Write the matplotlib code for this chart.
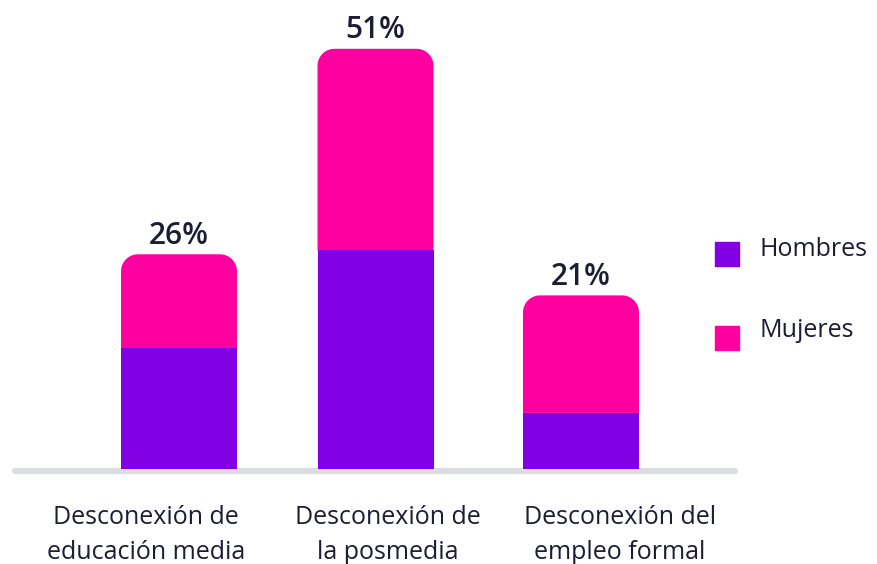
import numpy as np
import matplotlib.pyplot as plt
from matplotlib.patches import Polygon, Rectangle

plt.rcParams['font.family'] = ['Open Sans', 'DejaVu Sans']

categorias = ['Desconexión de\neducación media', 'Desconexión de\nla posmedia', 'Desconexión del\nempleo formal']
hombres = [14.6, 26.5, 6.7]
mujeres = [11.4, 24.5, 14.3]
totales = ['26%', '51%', '21%']
series = ['Hombres', 'Mujeres']

morado = '#8200E4'
rosa = '#FF00A0'
texto = '#1B1D33'

px = 8.22  # pixels per percentage point
base = 468


def yv(pix):
    # pixel row -> data value
    return (base - pix) / px


def barra_redonda(x0, x1, y0, y1, r):
    # rectangle with only the top corners rounded (r in pixels)
    ry = r / px
    t = np.linspace(0, np.pi / 2, 20)
    der = np.column_stack([x1 - r + r * np.cos(t), y1 - ry + ry * np.sin(t)])
    izq = np.column_stack([x0 + r - r * np.sin(t), y1 - ry + ry * np.cos(t)])
    pts = np.vstack([[x0, y0], [x1, y0], der, izq])
    return pts


fig = plt.figure(figsize=(8.77, 5.64), dpi=100)
ax = fig.add_axes([0, 0, 1, 1])
ax.set_xlim(0, 877)
ax.set_ylim(yv(564), yv(0))
ax.axis('off')

# baseline
ax.plot([15, 735], [yv(470.5)] * 2, color='#DCDDE1', lw=4.5, solid_capstyle='round', zorder=1)

xs = [179, 375.5, 581]
ancho = 116
lab_x = [146, 388, 620]
radio = 17
for i, x in enumerate(xs):
    total = hombres[i] + mujeres[i]
    ax.add_patch(Polygon(barra_redonda(x - ancho / 2, x + ancho / 2, hombres[i], total, radio),
                         closed=True, fc=rosa, ec='none', zorder=2))
    ax.add_patch(Rectangle((x - ancho / 2, yv(469)), ancho, hombres[i] - yv(469),
                           fc=morado, ec='none', zorder=3))
    ax.text(x, total + 1.3, totales[i], ha='center', va='baseline', fontsize=21.5,
            color=texto, fontweight='semibold')
    for linea, b in zip(categorias[i].split('\n'), [524, 559]):
        ax.text(lab_x[i], yv(b), linea, ha='center', va='baseline', fontsize=18,
                color=texto, fontweight='medium')

# legend
for nombre, color, cy, tb in zip(series, [morado, rosa], [253.5, 337.5], [256, 337]):
    ax.scatter([726.5], [yv(cy)], marker='s', s=23 ** 2 * 0.52, color=color, zorder=4)
    ax.text(759, yv(tb), nombre, ha='left', va='baseline', fontsize=18, color=texto,
            fontweight='medium')

fig.savefig('out.png', dpi=100)
